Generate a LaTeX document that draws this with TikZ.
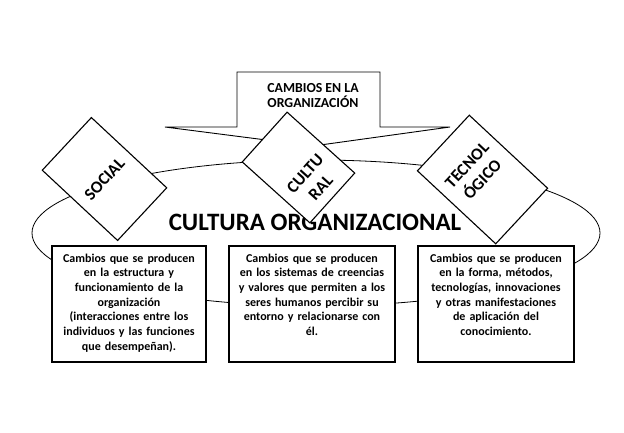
\documentclass[tikz,border=0pt]{standalone}
\usepackage{fontspec}
\setmainfont{Carlito}
\usepackage{tikz}
\tikzstyle{tag} = [rectangle, draw=black, fill=white, line width=1.1pt, font=\fontsize{17}{21}\selectfont\bfseries, align=center, inner sep=0pt]
\tikzstyle{note} = [rectangle, draw=black, fill=white, line width=1.2pt, font=\fontsize{12}{14.7}\selectfont\bfseries, align=center, text width=146pt, inner xsep=4pt, inner ysep=4pt, text height=12pt, text depth=96pt]

\begin{document}
\begin{tikzpicture}[x=1pt, y=-1pt, node distance=183pt]
\useasboundingbox[fill=white] (0,0) rectangle (624,432);
% ring behind everything
\draw[line width=0.8pt] (316,233) ellipse [x radius=284pt, y radius=73pt];
% callout with the wide pointer
\draw[line width=0.9pt, fill=white] (165,127) -- (237,127) -- (237,72) -- (380,72) -- (380,127) -- (450,127) -- (313,146) -- cycle;
\node (header)[font=\fontsize{13.8}{15}\selectfont\bfseries, align=center] at (313,96) {CAMBIOS EN LA\\ORGANIZACIÓN};
\node (title)[font=\fontsize{25}{29}\selectfont\bfseries] at (315,222.5) {CULTURA ORGANIZACIONAL};
\node (social)[tag, rotate=47, minimum width=72pt, minimum height=103pt] at (104.5,179) {SOCIAL};
\node (cultural)[tag, rotate=48, minimum width=67pt, minimum height=91pt] at (298.5,167.5) {\raisebox{-25pt}[0pt][0pt]{\begin{tabular}{@{}c@{}}CULTU\\RAL\end{tabular}}};
\node (tecnologico)[tag, rotate=47, minimum width=76pt, minimum height=107pt] at (482.5,179.5) {\raisebox{5pt}[0pt][0pt]{\begin{tabular}{@{}c@{}}TECNOL\\ÓGICO\end{tabular}}};
\node (box1)[note] at (129,304) {Cambios que se producen\\en la estructura y\\funcionamiento de la\\organización\\(interacciones entre los\\individuos y las funciones\\que desempeñan).};
\node (box2)[note, text width=158pt, right of=box1] {Cambios que se producen\\en los sistemas de creencias\\y valores que permiten a los\\seres humanos percibir su\\entorno y relacionarse con\\él.};
\node (box3)[note, text width=148pt, right of=box2, xshift=1pt] {Cambios que se producen\\en la forma, métodos,\\tecnologías, innovaciones\\y otras manifestaciones\\de aplicación del\\conocimiento.};
\end{tikzpicture}
\end{document}
